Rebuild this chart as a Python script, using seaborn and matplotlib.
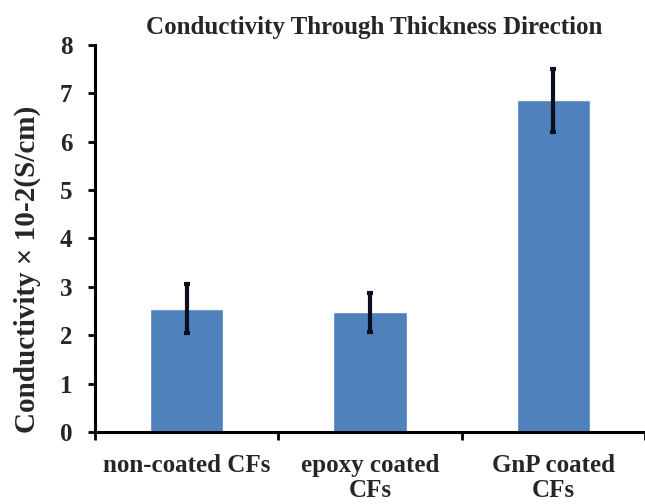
import matplotlib
matplotlib.use("Agg")
import matplotlib.pyplot as plt
import seaborn as sns
import pandas as pd
from matplotlib.ticker import FixedLocator

categories = ["non-coated CFs", "epoxy coated\nCFs", "GnP coated\nCFs"]
conductivity = [2.55, 2.47, 6.85]
errors = [0.50, 0.40, 0.65]
y_ticks = [0, 1, 2, 3, 4, 5, 6, 7, 8]

sns.set_theme(style="white")
plt.rcParams["font.family"] = ["Liberation Serif", "DejaVu Serif"]
plt.rcParams["font.weight"] = "bold"

df = pd.DataFrame({"category": categories, "conductivity": conductivity})

fig = plt.figure(figsize=(6.45, 5.04), dpi=100)
ax = fig.add_axes([0.147, 0.143, 0.853, 0.768])

sns.barplot(data=df, x="category", y="conductivity", color="#4F81BD",
            width=0.4, saturation=1, errorbar=None, ax=ax)
ax.errorbar(range(len(categories)), conductivity, yerr=errors, fmt="none",
            ecolor="#0a0f1e", elinewidth=3, capsize=2.5, capthick=3)

ax.set_xlim(-0.5, len(categories) - 0.5)
ax.set_ylim(0, 8)
ax.set_yticks(y_ticks)
ax.set_yticklabels([str(t) for t in y_ticks], fontsize=18, fontweight="bold")

ax.set_xticks(range(len(categories)))
ax.set_xticklabels(categories, fontsize=18, fontweight="bold", linespacing=1.1)
ax.xaxis.set_minor_locator(FixedLocator([i - 0.5 for i in range(len(categories) + 1)]))
ax.tick_params(axis="x", which="major", length=0, pad=16)
ax.tick_params(axis="x", which="minor", length=6, width=2, direction="out",
               bottom=True, color="black")
ax.tick_params(axis="y", which="major", length=5, width=2, direction="out",
               left=True, color="black", pad=11)

for side in ["top", "right"]:
    ax.spines[side].set_visible(False)
for side in ["left", "bottom"]:
    ax.spines[side].set_visible(True)
    ax.spines[side].set_linewidth(2.2)
    ax.spines[side].set_color("black")

ax.set_xlabel("")
ax.set_ylabel("Conductivity × 10-2(S/cm)", fontsize=21, fontweight="bold")
ax.yaxis.set_label_coords(-0.098, 0.42)

fig.text(0.58, 0.946, "Conductivity Through Thickness Direction",
         ha="center", va="center", fontsize=18, fontweight="bold")

fig.savefig("out.png", dpi=100, facecolor="white")
